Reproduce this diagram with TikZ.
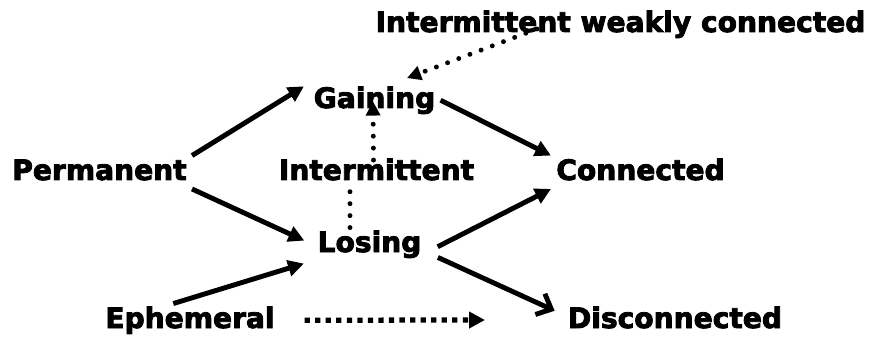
\documentclass[tikz,border=0pt]{standalone}
\usepackage{fontspec}
\setmainfont{DejaVu Sans}[BoldFeatures={FakeBold=3}]
\usetikzlibrary{arrows.meta}				%TikZ Libraries

\begin{document}
\begin{tikzpicture}[
		lbl/.style={font=\fontsize{16}{19}\selectfont\bfseries, inner xsep=0.1cm, inner ysep=0.06cm,
			text height=12pt, text depth=3.2pt, anchor=base},
		arr/.style={-{Triangle[length=9pt,width=9pt]}, line width=2.8pt},
		dotarr/.style={-{Triangle[length=8pt,width=8pt]}, line width=2.8pt, line cap=round,
			dash pattern=on 0pt off 6.8pt},
		sqarr/.style={-{Triangle[length=9pt,width=9pt]}, line width=3pt, dash pattern=on 3pt off 3pt}]
		\useasboundingbox (0,0) rectangle (17.62,-6.82);
		\node[lbl] (iwc) at (12.41,-0.64) {Intermittent weakly connected};
		\node[lbl] (gain) at (7.49,-2.16) {Gaining};
		\node[lbl] (perm) at (1.99,-3.60) {Permanent};
		\node[lbl] (inter) at (7.53,-3.60) {Intermittent};
		\node[lbl] (conn) at (12.81,-3.60) {Connected};
		\node[lbl] (losing) at (7.39,-5.04) {Losing};
		\node[lbl] (eph) at (3.80,-6.56) {Ephemeral};
		\node[lbl] (disc) at (13.50,-6.56) {Disconnected};
		\coordinate (ephend) at (9.70,-6.40);
		\draw[arr, shorten >=3pt] (perm.north east) -- (gain.north west);
		\draw[arr, shorten >=5pt] (perm.south east) -- (losing.west);
		\draw[arr] (gain.east) -- (conn.north west);
		\draw[arr, shorten <=7pt] (losing.-8) -- (conn.south west);
		\draw[line width=2.8pt, -{Straight Barb[length=7pt,width=13pt]}, shorten <=7pt, shorten >=5pt]
		(losing.-8) -- (disc.177);
		\draw[arr, shorten >=5pt] (eph.135) -- (losing.south west);
		\draw[sqarr, shorten <=14pt] (eph.east) -- (ephend);
		\draw[dotarr] ([xshift=-1.67cm,yshift=0.06cm]iwc.base) -- ([xshift=0.65cm,yshift=0.11cm]gain.north);
		\draw[dotarr, -] ([xshift=-0.39cm]losing.north) -- ([xshift=-0.53cm,yshift=0.13cm]inter.south);
		\draw[dotarr] ([xshift=-0.06cm,yshift=-0.09cm]inter.north) -- ([xshift=-0.03cm,yshift=0.31cm]gain.south);
\end{tikzpicture}
\end{document}
